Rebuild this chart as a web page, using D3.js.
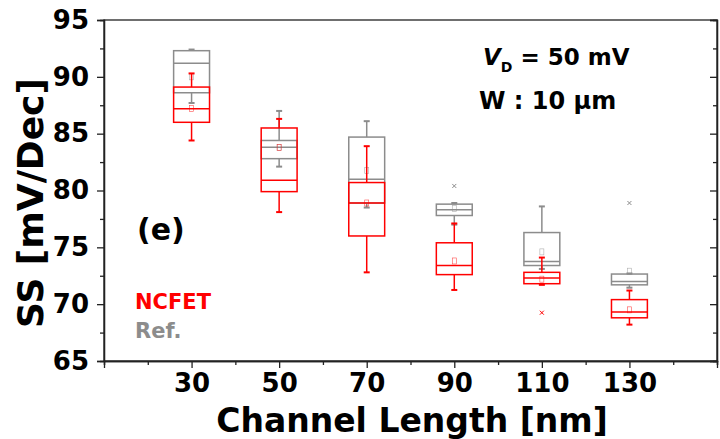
<!DOCTYPE html>
<html>
<head>
<meta charset="utf-8">
<script src="https://cdn.jsdelivr.net/npm/d3@7"></script>
<style>
  body { margin: 0; background: #fff; }
  text { font-family: "DejaVu Sans", Verdana, sans-serif; font-weight: bold; }
</style>
</head>
<body>
<script>
var lengths = [30, 50, 70, 90, 110, 130];

// Ref. (gray) boxes
var refMax = [92.4, 87.0, 86.1, 78.9, 78.6, 72.7];
var refQ3 = [92.3, 84.4, 84.7, 78.8, 76.3, 72.65];
var refMed = [91.2, 83.8, 81.0, 78.3, 73.75, 72.0];
var refQ1 = [88.6, 82.8, 78.9, 77.8, 73.4, 71.7];
var refMin = [87.7, 82.1, 78.5, 77.0, 73.1, 71.45];
var refMean = [90.0, 83.8, 81.75, 78.4, 74.6, 72.9];
var refOut = [[], [], [], [80.4], [], [78.9]];

// NCFET (red) boxes
var ncMax = [90.3, 86.3, 83.9, 77.1, 74.1, 71.2];
var ncQ3 = [89.1, 85.5, 80.7, 75.4, 72.8, 70.4];
var ncMed = [87.2, 80.9, 78.9, 73.4, 72.3, 69.3];
var ncQ1 = [86.0, 79.9, 76.0, 72.6, 71.8, 68.8];
var ncMin = [84.4, 78.1, 72.8, 71.25, 71.7, 68.2];
var ncMean = [87.2, 83.8, 78.9, 73.8, 72.2, 69.5];
var ncOut = [[], [], [], [], [69.25], []];

var yTicks = [65, 70, 75, 80, 85, 90, 95];
var yMinor = [67.5, 72.5, 77.5, 82.5, 87.5, 92.5];
var xMinor = [10, 20, 40, 60, 80, 100, 120, 140, 150];

var margin = { top: 20, right: 3, bottom: 78, left: 104 },
  width = 720 - margin.left - margin.right,
  height = 439 - margin.top - margin.bottom;

var svg = d3
  .select("body")
  .append("svg")
  .attr("width", 720)
  .attr("height", 439)
  .append("g")
  .attr("transform", "translate(" + margin.left + "," + margin.top + ")");

var x = d3.scaleLinear().domain([10, 150]).range([0, width]);
var y = d3.scaleLinear().domain([65, 95]).range([height, 0]);
var boxW = x(8.2) - x(0);

function series(color, max, q3, med, q1, min, mean, outs) {
  var data = lengths.map(function (L, i) {
    return { L: L, max: max[i], q3: q3[i], med: med[i], q1: q1[i], min: min[i], mean: mean[i], out: outs[i] };
  });
  var g = svg.append("g").attr("stroke", color).attr("fill", "none");
  var b = g.selectAll("g").data(data).enter().append("g");

  // whiskers
  b.append("line")
    .attr("x1", function (d) { return x(d.L); })
    .attr("x2", function (d) { return x(d.L); })
    .attr("y1", function (d) { return y(d.q3); })
    .attr("y2", function (d) { return y(d.max); })
    .attr("stroke-width", 1.5);
  b.append("line")
    .attr("x1", function (d) { return x(d.L); })
    .attr("x2", function (d) { return x(d.L); })
    .attr("y1", function (d) { return y(d.q1); })
    .attr("y2", function (d) { return y(d.min); })
    .attr("stroke-width", 1.5);
  ["max", "min"].forEach(function (k) {
    b.append("line")
      .attr("x1", function (d) { return x(d.L) - 3; })
      .attr("x2", function (d) { return x(d.L) + 3; })
      .attr("y1", function (d) { return y(d[k]); })
      .attr("y2", function (d) { return y(d[k]); })
      .attr("stroke-width", 2);
  });

  // box
  b.append("rect")
    .attr("x", function (d) { return x(d.L) - boxW / 2; })
    .attr("width", boxW)
    .attr("y", function (d) { return y(d.q3); })
    .attr("height", function (d) { return y(d.q1) - y(d.q3); })
    .attr("stroke-width", 1.5);
  b.append("line")
    .attr("x1", function (d) { return x(d.L) - boxW / 2; })
    .attr("x2", function (d) { return x(d.L) + boxW / 2; })
    .attr("y1", function (d) { return y(d.med); })
    .attr("y2", function (d) { return y(d.med); })
    .attr("stroke-width", 1.5);

  // mean
  b.append("rect")
    .attr("x", function (d) { return x(d.L) - 2; })
    .attr("y", function (d) { return y(d.mean) - 3; })
    .attr("width", 4)
    .attr("height", 6)
    .attr("stroke-width", 0.6)
    .attr("stroke-opacity", 0.7);

  // outliers
  b.each(function (d) {
    var gg = d3.select(this);
    d.out.forEach(function (v) {
      gg.append("path")
        .attr("d", "M" + (x(d.L) - 2) + "," + (y(v) - 2) + "l4,4m0,-4l-4,4")
        .attr("stroke-width", 1);
    });
  });
}

series("#8c8c8c", refMax, refQ3, refMed, refQ1, refMin, refMean, refOut);
series("#ff0000", ncMax, ncQ3, ncMed, ncQ1, ncMin, ncMean, ncOut);

// frame
svg.append("rect")
  .attr("width", width)
  .attr("height", height)
  .attr("fill", "none")
  .attr("stroke", "#222")
  .attr("stroke-width", 1.3);

// axes
svg.append("g")
  .call(d3.axisLeft(y).tickValues(yTicks).tickSize(7).tickPadding(8))
  .style("font-size", "26px");
svg.append("g").call(d3.axisLeft(y).tickValues(yMinor).tickSize(4).tickFormat(""));
svg.append("g").attr("transform", "translate(" + width + ",0)")
  .call(d3.axisLeft(y).tickValues(yTicks).tickSize(7).tickFormat(""));
svg.append("g").attr("transform", "translate(" + width + ",0)")
  .call(d3.axisLeft(y).tickValues(yMinor).tickSize(4).tickFormat(""));

svg.append("g")
  .attr("transform", "translate(0," + height + ")")
  .call(d3.axisBottom(x).tickValues(lengths).tickSize(7).tickPadding(6))
  .style("font-size", "26px");
svg.append("g")
  .attr("transform", "translate(0," + height + ")")
  .call(d3.axisBottom(x).tickValues(xMinor).tickSize(4).tickFormat(""));

svg.selectAll(".domain").attr("stroke", "#222").attr("stroke-width", 1.3);
svg.selectAll(".tick line").attr("stroke", "#222").attr("stroke-width", 1.3);
svg.selectAll(".tick text").attr("fill", "#000").style("font-weight", "bold");

// axis titles
svg.append("text")
  .attr("x", 412 - margin.left)
  .attr("y", 432 - margin.top)
  .style("text-anchor", "middle")
  .style("font-size", "33px")
  .text("Channel Length [nm]");

svg.append("text")
  .attr("transform", "translate(" + (43 - margin.left) + "," + (203 - margin.top) + ") rotate(-90)")
  .style("text-anchor", "middle")
  .style("font-size", "36px")
  .text("SS [mV/Dec]");

// annotations
var t1 = svg.append("text")
  .attr("x", 483 - margin.left)
  .attr("y", 65 - margin.top)
  .style("font-size", "23px");
t1.append("tspan").style("font-style", "italic").text("V");
t1.append("tspan").attr("dy", 7).style("font-size", "14px").text("D");
t1.append("tspan").attr("dy", -7).text(" = 50 mV");

svg.append("text")
  .attr("x", 479 - margin.left)
  .attr("y", 109 - margin.top)
  .style("font-size", "24px")
  .text("W : 10 \u03bcm");

svg.append("text")
  .attr("x", 137 - margin.left)
  .attr("y", 240 - margin.top)
  .style("font-size", "30px")
  .text("(e)");

svg.append("text")
  .attr("x", 135 - margin.left)
  .attr("y", 309 - margin.top)
  .style("font-size", "21px")
  .attr("fill", "#ff0000")
  .text("NCFET");

svg.append("text")
  .attr("x", 135 - margin.left)
  .attr("y", 338 - margin.top)
  .style("font-size", "21px")
  .attr("fill", "#8c8c8c")
  .text("Ref.");
</script>
</body>
</html>
